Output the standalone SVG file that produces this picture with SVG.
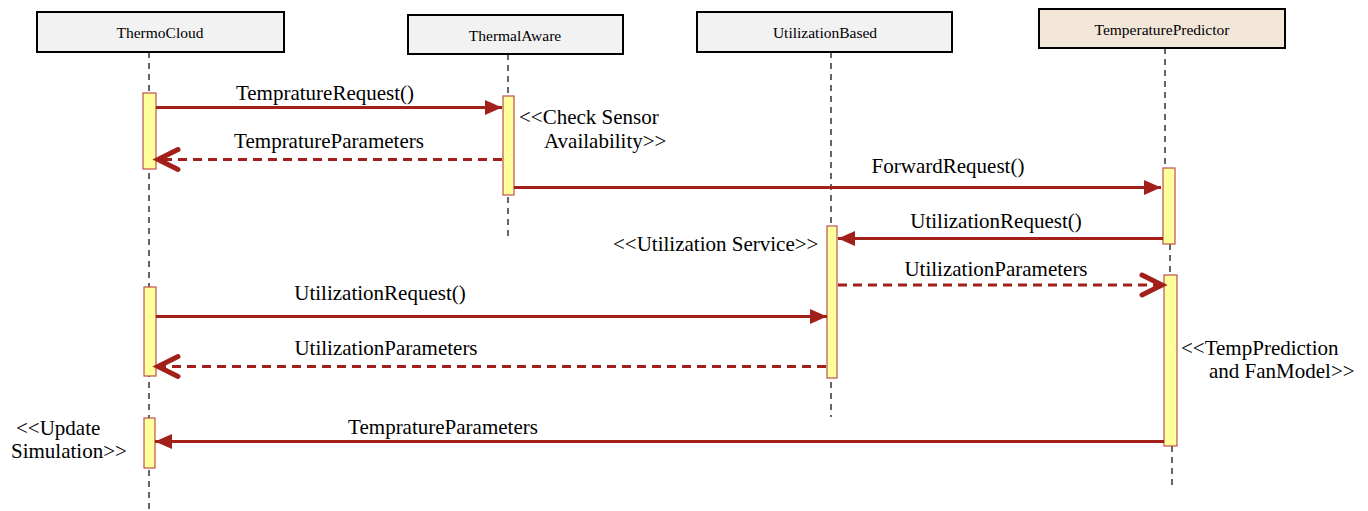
<svg xmlns="http://www.w3.org/2000/svg" width="1368" height="511" viewBox="0 0 1368 511">
<style>
.box{fill:#f2f2f2;stroke:#000;stroke-width:2}
.boxp{fill:#f2e6d8;stroke:#000;stroke-width:2}
.bt{font-family:"Liberation Serif","Times New Roman",serif;font-size:15.5px;fill:#000;text-anchor:middle}
.life{stroke:#000;stroke-width:1.2;stroke-dasharray:6 5;fill:none}
.act{fill:#ffff9c;stroke:#c0504d;stroke-width:1.2}
.msg{stroke:#a21f1a;stroke-width:3;fill:none}
.dash{stroke-dasharray:9 6}
.lt{font-family:"Liberation Serif","Times New Roman",serif;font-size:21px;fill:#000;text-anchor:middle}
.nt{font-family:"Liberation Serif","Times New Roman",serif;font-size:21px;fill:#000}
</style>
<defs>
<marker id="fill" markerUnits="userSpaceOnUse" markerWidth="18" markerHeight="16" refX="17" refY="8" orient="auto" overflow="visible">
<path d="M0,0.5 L17,8 L0,15.5 z" fill="#a21f1a"/>
</marker>
<marker id="open" markerUnits="userSpaceOnUse" markerWidth="24" markerHeight="24" refX="21" refY="11" orient="auto" overflow="visible">
<path d="M1,1 L21,11 L1,21" fill="none" stroke="#a21f1a" stroke-width="5" stroke-linecap="round" stroke-linejoin="miter"/>
</marker>
</defs>

<g id="ThermoCloud">
<rect class="box" x="37" y="12" width="247" height="40"/>
<text class="bt" x="160" y="38">ThermoCloud</text>
<line class="life" x1="149" y1="52" x2="149" y2="511"/>
<rect class="act" x="143" y="93" width="13" height="76"/>
<rect class="act" x="144" y="287" width="12" height="89"/>
<rect class="act" x="144" y="418" width="11" height="50"/>
</g>

<g id="ThermalAware">
<rect class="box" x="408" y="15" width="215" height="39"/>
<text class="bt" x="515" y="41">ThermalAware</text>
<line class="life" x1="508" y1="54" x2="508" y2="236"/>
<rect class="act" x="503" y="96" width="11" height="99"/>
</g>

<g id="UtilizationBased">
<rect class="box" x="697" y="12" width="255" height="40"/>
<text class="bt" x="825" y="38">UtilizationBased</text>
<line class="life" x1="831" y1="52" x2="831" y2="417"/>
<rect class="act" x="827" y="226" width="10" height="152"/>
</g>

<g id="TemperaturePredictor">
<rect class="boxp" x="1039" y="9" width="246" height="39"/>
<text class="bt" x="1162" y="35">TemperaturePredictor</text>
<line class="life" x1="1165" y1="48" x2="1165" y2="168"/>
<line class="life" x1="1170" y1="244" x2="1170" y2="275"/>
<line class="life" x1="1172" y1="446" x2="1172" y2="486"/>
<rect class="act" x="1163" y="168" width="12" height="76"/>
<rect class="act" x="1164" y="275" width="13" height="171"/>
</g>

<g id="notes">
<text class="nt" x="519" y="124">&lt;&lt;Check Sensor</text>
<text class="nt" x="544" y="148">Availability&gt;&gt;</text>
<text class="nt" x="613" y="251">&lt;&lt;Utilization Service&gt;&gt;</text>
<text class="nt" x="1181" y="355">&lt;&lt;TempPrediction</text>
<text class="nt" x="1209" y="378">and FanModel&gt;&gt;</text>
<text class="nt" x="16" y="435">&lt;&lt;Update</text>
<text class="nt" x="11" y="458">Simulation&gt;&gt;</text>
</g>

<g id="connectors">
<line class="msg" x1="156" y1="107.5" x2="502" y2="107.5" marker-end="url(#fill)"/>
<text class="lt" x="325" y="100">TempratureRequest()</text>
<line class="msg dash" x1="502" y1="159.5" x2="158" y2="159.5" marker-end="url(#open)"/>
<text class="lt" x="329" y="148">TempratureParameters</text>
<line class="msg" x1="514" y1="187.5" x2="1161" y2="187.5" marker-end="url(#fill)"/>
<text class="lt" x="948" y="173">ForwardRequest()</text>
<line class="msg" x1="1163" y1="238.5" x2="838" y2="238.5" marker-end="url(#fill)"/>
<text class="lt" x="996" y="228">UtilizationRequest()</text>
<line class="msg dash" x1="838" y1="285" x2="1162" y2="285" marker-end="url(#open)"/>
<text class="lt" x="996" y="276">UtilizationParameters</text>
<line class="msg" x1="156" y1="316.5" x2="827" y2="316.5" marker-end="url(#fill)"/>
<text class="lt" x="380" y="300">UtilizationRequest()</text>
<line class="msg dash" x1="826" y1="366.5" x2="158" y2="366.5" marker-end="url(#open)"/>
<text class="lt" x="386" y="355">UtilizationParameters</text>
<line class="msg" x1="1164" y1="441.5" x2="155" y2="441.5" marker-end="url(#fill)"/>
<text class="lt" x="443" y="434">TempratureParameters</text>
</g>
</svg>
